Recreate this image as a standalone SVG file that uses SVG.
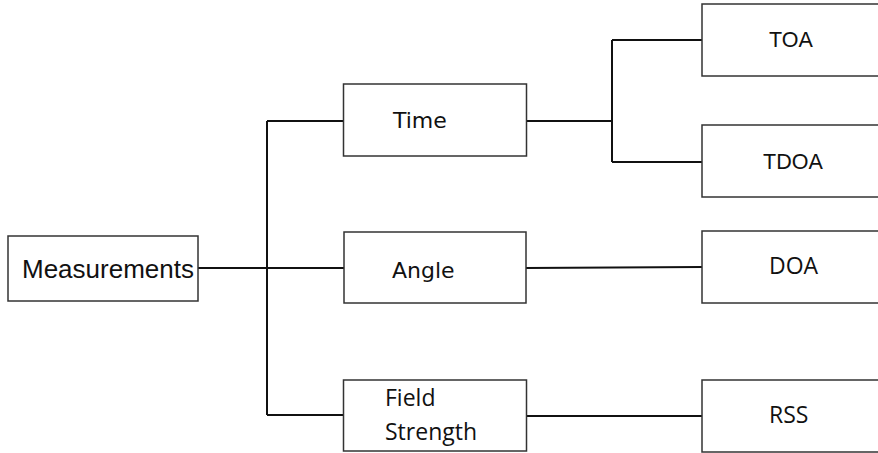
<svg xmlns="http://www.w3.org/2000/svg" width="878" height="453" viewBox="0 0 878 453">
<style>
.box{fill:#fff;stroke:#333;stroke-width:1.5}
.ln{fill:none;stroke:#111;stroke-width:2}
.a{font-family:"Liberation Sans",Arial,sans-serif;fill:#111}
.d{font-family:"DejaVu Sans",Verdana,sans-serif;fill:#111}
.o{font-family:"Open Sans","Noto Sans",sans-serif;fill:#111}
</style>
<rect width="878" height="453" fill="#fff"/>
<g id="connectors">
<path class="ln" d="M198,268 H344"/>
<path class="ln" d="M267,121 V415"/>
<path class="ln" d="M267,121 H344"/>
<path class="ln" d="M267,415 H344"/>
<path class="ln" d="M526,121 H612"/>
<path class="ln" d="M612,40 V162"/>
<path class="ln" d="M612,40 H702"/>
<path class="ln" d="M612,162 H702"/>
<path class="ln" d="M526,268 L702,267"/>
<path class="ln" d="M526,416 H702"/>
</g>
<g id="measurements">
<rect class="box" x="8" y="236" width="190" height="65"/>
<text class="a" x="22" y="278" font-size="26">Measurements</text>
</g>
<g id="time">
<rect class="box" x="343.5" y="84" width="183" height="72"/>
<text class="d" x="393" y="128" font-size="22">Time</text>
</g>
<g id="angle">
<rect class="box" x="344" y="232" width="182" height="71"/>
<text class="d" x="392" y="278" font-size="22">Angle</text>
</g>
<g id="field-strength">
<rect class="box" x="343.5" y="380" width="183" height="71"/>
<text class="o" x="385" y="406" font-size="23">Field</text>
<text class="o" x="385" y="440" font-size="23">Strength</text>
</g>
<g id="toa">
<rect class="box" x="702" y="4" width="180" height="72"/>
<text class="a" x="769" y="47" font-size="21.5">TOA</text>
</g>
<g id="tdoa">
<rect class="box" x="702" y="125" width="180" height="72"/>
<text class="a" x="763" y="169" font-size="21.5">TDOA</text>
</g>
<g id="doa">
<rect class="box" x="702" y="231" width="180" height="72"/>
<text class="o" x="769" y="274" font-size="23">DOA</text>
</g>
<g id="rss">
<rect class="box" x="702" y="380" width="180" height="72"/>
<text class="o" x="769" y="423" font-size="23">RSS</text>
</g>
</svg>
